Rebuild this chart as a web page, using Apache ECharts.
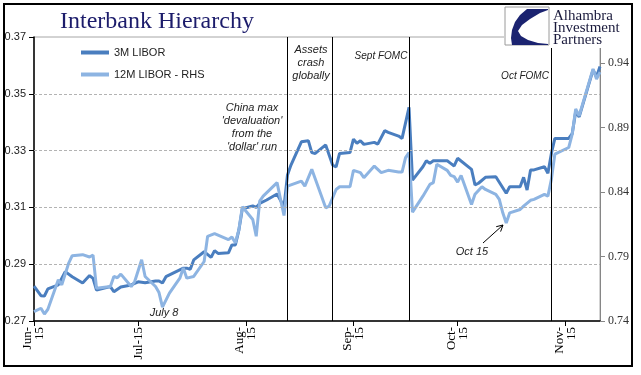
<!DOCTYPE html>
<html>
<head>
<meta charset="utf-8">
<script src="https://cdn.jsdelivr.net/npm/echarts@6/dist/echarts.min.js"></script>
<style>
  html, body { margin: 0; padding: 0; background: #fff; }
  #chart { width: 641px; height: 375px; }
</style>
</head>
<body>
<div id="chart"></div>
<script>
// 3M LIBOR (left axis)
var dates3m = [
  "2015-06-01","2015-06-03","2015-06-04","2015-06-05","2015-06-08","2015-06-10","2015-06-12",
  "2015-06-15","2015-06-17","2015-06-18","2015-06-19","2015-06-23","2015-06-24","2015-06-26",
  "2015-06-29","2015-07-01","2015-07-03","2015-07-06","2015-07-07","2015-07-08","2015-07-09",
  "2015-07-14","2015-07-15","2015-07-16","2015-07-17","2015-07-20","2015-07-22","2015-07-23",
  "2015-07-24","2015-07-27","2015-07-28","2015-07-29","2015-07-30","2015-07-31","2015-08-03",
  "2015-08-04","2015-08-05","2015-08-07","2015-08-10","2015-08-12","2015-08-13","2015-08-14",
  "2015-08-17","2015-08-19","2015-08-20","2015-08-21","2015-08-24","2015-08-26","2015-08-27",
  "2015-08-28","2015-08-31","2015-09-01","2015-09-02","2015-09-03","2015-09-04","2015-09-07",
  "2015-09-08","2015-09-10","2015-09-11","2015-09-14","2015-09-15","2015-09-17","2015-09-18",
  "2015-09-21","2015-09-22","2015-09-23","2015-09-24","2015-09-28","2015-09-29","2015-09-30",
  "2015-10-01","2015-10-05","2015-10-06","2015-10-07","2015-10-09","2015-10-12","2015-10-15",
  "2015-10-16","2015-10-19","2015-10-20","2015-10-21","2015-10-22","2015-10-23","2015-10-26",
  "2015-10-27","2015-10-28","2015-10-29","2015-11-02","2015-11-03","2015-11-04","2015-11-05",
  "2015-11-09","2015-11-10","2015-11-11"
];
var libor3m = [
  0.2823,0.2789,0.2788,0.2813,0.2827,0.2874,0.2856,
  0.2834,0.2860,0.2850,0.2809,0.2821,0.2803,0.2820,
  0.2827,0.2838,0.2835,0.2841,0.2841,0.2834,0.2856,
  0.2886,0.2886,0.2882,0.2915,0.2944,0.2924,0.2948,
  0.2938,0.2940,0.2968,0.2968,0.3020,0.3095,0.3105,
  0.3100,0.3114,0.3126,0.3147,0.3102,0.3214,0.3249,
  0.3331,0.3335,0.3293,0.3290,0.3320,0.3249,0.3243,
  0.3290,0.3293,0.3340,0.3326,0.3335,0.3322,0.3329,
  0.3323,0.3370,0.3364,0.3351,0.3343,0.3452,0.3196,
  0.3243,0.3264,0.3255,0.3264,0.3264,0.3255,0.3246,
  0.3273,0.3234,0.3179,0.3185,0.3206,0.3208,0.3150,
  0.3173,0.3173,0.3206,0.3161,0.3232,0.3232,0.3243,
  0.3220,0.3290,0.3343,0.3343,0.3360,0.3437,0.3419,
  0.3584,0.3560,0.3596
];

// 12M LIBOR (right axis)
var dates12m = [
  "2015-06-01","2015-06-03","2015-06-04","2015-06-05","2015-06-08","2015-06-09","2015-06-11",
  "2015-06-12","2015-06-15","2015-06-17","2015-06-18","2015-06-19","2015-06-23","2015-06-24",
  "2015-06-25","2015-06-26","2015-06-29","2015-06-30","2015-07-02","2015-07-03","2015-07-06",
  "2015-07-07","2015-07-08","2015-07-10","2015-07-13","2015-07-14","2015-07-15","2015-07-17",
  "2015-07-20","2015-07-21","2015-07-23","2015-07-27","2015-07-28","2015-07-29","2015-07-30",
  "2015-07-31","2015-08-03","2015-08-04","2015-08-05","2015-08-06","2015-08-10","2015-08-11",
  "2015-08-12","2015-08-13","2015-08-17","2015-08-18","2015-08-20","2015-08-24","2015-08-25",
  "2015-08-27","2015-08-28","2015-08-31","2015-09-01","2015-09-03","2015-09-04","2015-09-07",
  "2015-09-09","2015-09-11","2015-09-14","2015-09-15","2015-09-16","2015-09-17","2015-09-18",
  "2015-09-21","2015-09-23","2015-09-24","2015-09-25","2015-09-28","2015-09-29","2015-09-30",
  "2015-10-01","2015-10-02","2015-10-05","2015-10-06","2015-10-08","2015-10-09","2015-10-12",
  "2015-10-13","2015-10-14","2015-10-15","2015-10-16","2015-10-19","2015-10-20","2015-10-22",
  "2015-10-23","2015-10-26","2015-10-27","2015-10-28","2015-10-29","2015-11-02","2015-11-03",
  "2015-11-04","2015-11-05","2015-11-09","2015-11-10","2015-11-11"
];
var libor12m = [
  0.7472,0.7499,0.7454,0.7491,0.7719,0.7680,0.7849,
  0.7906,0.7914,0.7896,0.7911,0.7654,0.7667,0.7745,
  0.7735,0.7763,0.7667,0.7706,0.7875,0.7745,0.7667,
  0.7620,0.7507,0.7616,0.7732,0.7810,0.7732,0.7745,
  0.7861,0.8056,0.8077,0.8030,0.8051,0.8005,0.8108,
  0.8285,0.8186,0.8056,0.8329,0.8367,0.8472,0.8342,
  0.8217,0.8445,0.8484,0.8445,0.8575,0.8277,0.8290,
  0.8419,0.8440,0.8440,0.8567,0.8549,0.8510,0.8600,
  0.8549,0.8567,0.8554,0.8554,0.8666,0.8705,0.8243,
  0.8367,0.8458,0.8472,0.8614,0.8567,0.8528,0.8518,
  0.8476,0.8528,0.8303,0.8381,0.8440,0.8419,0.8381,
  0.8342,0.8238,0.8160,0.8238,0.8264,0.8290,0.8335,
  0.8342,0.8381,0.8367,0.8497,0.8692,0.8744,0.8847,
  0.9042,0.8990,0.9353,0.9275,0.9328
];

var firstDate = "2015-06-01";
var lastDate = "2015-11-11";
var monthTicks = ["2015-06-01","2015-07-01","2015-08-01","2015-09-01","2015-10-01","2015-11-01"];
var monthLabels = ["Jun-\n15","Jul-15","Aug-\n15","Sep-\n15","Oct-\n15","Nov-\n15"];
var leftTicks = [0.27, 0.29, 0.31, 0.33, 0.35, 0.37];
var rightTicks = [0.74, 0.79, 0.84, 0.89, 0.94];
var eventDates = ["2015-08-13","2015-08-26","2015-09-17","2015-10-28"];

var start = Date.parse(firstDate);
function dayOf(s) { return (Date.parse(s) - start) / 864e5; }

var tickDays = monthTicks.map(dayOf);
var labelByDay = {};
tickDays.forEach(function (d, i) { labelByDay[d] = monthLabels[i]; });

var chart = echarts.init(document.getElementById("chart"), null, { renderer: "canvas" });
var noteFont = "italic 11px 'Liberation Sans Narrow', 'Liberation Sans', sans-serif";
var fomcFont = "italic 10px 'Liberation Sans Narrow', 'Liberation Sans', sans-serif";

var option = {
  backgroundColor: "#fff",
  animation: false,
  grid: { left: 34, right: 41, top: 37, bottom: 54, show: true, borderColor: "#a6a6a6", borderWidth: 1 },
  legend: {
    orient: "vertical",
    left: 76,
    top: 42,
    itemWidth: 28,
    itemHeight: 4,
    itemGap: 11,
    icon: "rect",
    textStyle: { fontFamily: "Liberation Sans", fontSize: 11, color: "#222" },
    data: ["3M LIBOR", "12M LIBOR - RHS"]
  },
  xAxis: {
    type: "value",
    min: 0,
    max: dayOf(lastDate),
    axisLine: { lineStyle: { color: "#000", width: 1.5 } },
    axisTick: { customValues: tickDays, length: 5, lineStyle: { color: "#000" } },
    axisLabel: {
      customValues: tickDays,
      rotate: 90,
      margin: 6,
      fontFamily: "Liberation Serif",
      fontSize: 13,
      lineHeight: 12,
      color: "#000",
      formatter: function (v) { return labelByDay[v] || ""; }
    },
    splitLine: { show: false }
  },
  yAxis: [
    {
      type: "value",
      min: 0.27,
      max: 0.37,
      axisLine: { show: true, lineStyle: { color: "#000", width: 1.5 } },
      axisTick: { show: true, customValues: leftTicks, length: 5, lineStyle: { color: "#000" } },
      axisLabel: {
        customValues: leftTicks,
        margin: 8,
        fontFamily: "Liberation Sans",
        fontSize: 11,
        color: "#222",
        formatter: function (v) { return v.toFixed(2); }
      },
      splitLine: { show: false }
    },
    {
      type: "value",
      min: 0.74,
      max: 0.96,
      axisLine: { show: true, lineStyle: { color: "#868686" } },
      axisTick: { show: true, customValues: rightTicks, length: 5, lineStyle: { color: "#868686" } },
      axisLabel: {
        customValues: rightTicks,
        fontFamily: "Liberation Serif",
        fontSize: 12,
        color: "#333",
        formatter: function (v) { return v.toFixed(2); }
      },
      splitLine: { show: false }
    }
  ],
  series: [
    {
      name: "3M LIBOR",
      type: "line",
      yAxisIndex: 0,
      showSymbol: false,
      color: "#4a7ebf",
      lineStyle: { width: 3, color: "#4a7ebf" },
      data: dates3m.map(function (d, i) { return [dayOf(d), libor3m[i]]; }),
      markLine: {
        silent: true,
        symbol: ["none", "none"],
        label: { show: false },
        lineStyle: { color: "#000", width: 1, type: "solid" },
        data: leftTicks.slice(1, 5).map(function (v) {
          return { yAxis: v, lineStyle: { color: "#b3b3b3", type: [3, 2], width: 1 } };
        }).concat(eventDates.map(function (d) { return { xAxis: dayOf(d) }; }))
      }
    },
    {
      name: "12M LIBOR - RHS",
      type: "line",
      yAxisIndex: 1,
      showSymbol: false,
      color: "#8db4e2",
      lineStyle: { width: 3, color: "#8db4e2" },
      data: dates12m.map(function (d, i) { return [dayOf(d), libor12m[i]]; })
    }
  ],
  graphic: [
    { type: "rect", shape: { x: 4, y: 4, width: 628, height: 362 }, style: { fill: "none", stroke: "#000", lineWidth: 2 }, z: 100 },
    { type: "text", x: 60, y: 22, style: { text: "Interbank Hierarchy", font: "24px 'Liberation Serif'", fill: "#1c1c6b", verticalAlign: "middle" } },
    // logo
    { type: "rect", shape: { x: 504, y: 6, width: 126, height: 42 }, style: { fill: "#fff" }, z: 49 },
    { type: "rect", shape: { x: 505, y: 7, width: 44, height: 38 }, style: { fill: "#fff", stroke: "#9a9a9a", lineWidth: 1 }, z: 50 },
    { type: "polygon", shape: { points: [[527, 9], [548, 9], [548, 10], [540, 13], [530, 19], [522, 25], [518, 31], [521, 36], [528, 40], [538, 43], [548, 44], [548, 45], [512, 45], [511, 38], [512, 30], [515, 22], [520, 15]] }, style: { fill: "#1b2370" }, z: 51 },
    { type: "text", x: 553, y: 16, style: { text: "Alhambra", font: "15px 'Liberation Serif'", fill: "#1a1a3c", verticalAlign: "middle" }, z: 51 },
    { type: "text", x: 553, y: 28, style: { text: "Investment", font: "15px 'Liberation Serif'", fill: "#1a1a3c", verticalAlign: "middle" }, z: 51 },
    { type: "text", x: 553, y: 40, style: { text: "Partners", font: "15px 'Liberation Serif'", fill: "#1a1a3c", verticalAlign: "middle" }, z: 51 },
    // annotations
    { type: "text", x: 252, y: 127, style: { text: "China max\n'devaluation'\nfrom the\n'dollar' run", font: noteFont, fill: "#222", align: "center", verticalAlign: "middle", lineHeight: 13 } },
    { type: "text", x: 311, y: 63, style: { text: "Assets\ncrash\nglobally", font: noteFont, fill: "#222", align: "center", verticalAlign: "middle", lineHeight: 13 } },
    { type: "text", x: 381, y: 56, style: { text: "Sept FOMC", font: fomcFont, fill: "#222", align: "center", verticalAlign: "middle" } },
    { type: "text", x: 525, y: 76, style: { text: "Oct FOMC", font: fomcFont, fill: "#222", align: "center", verticalAlign: "middle" } },
    { type: "text", x: 472, y: 252, style: { text: "Oct 15", font: noteFont, fill: "#222", align: "center", verticalAlign: "middle" } },
    { type: "text", x: 164, y: 313, style: { text: "July 8", font: noteFont, fill: "#222", align: "center", verticalAlign: "middle" } },
    { type: "polyline", shape: { points: [[483, 243], [503, 225]] }, style: { stroke: "#000", lineWidth: 1 } },
    { type: "polyline", shape: { points: [[496.2, 226.7], [503, 225], [500.6, 231.6]] }, style: { stroke: "#000", lineWidth: 1, fill: "none" } }
  ]
};

chart.setOption(option);
</script>
</body>
</html>
